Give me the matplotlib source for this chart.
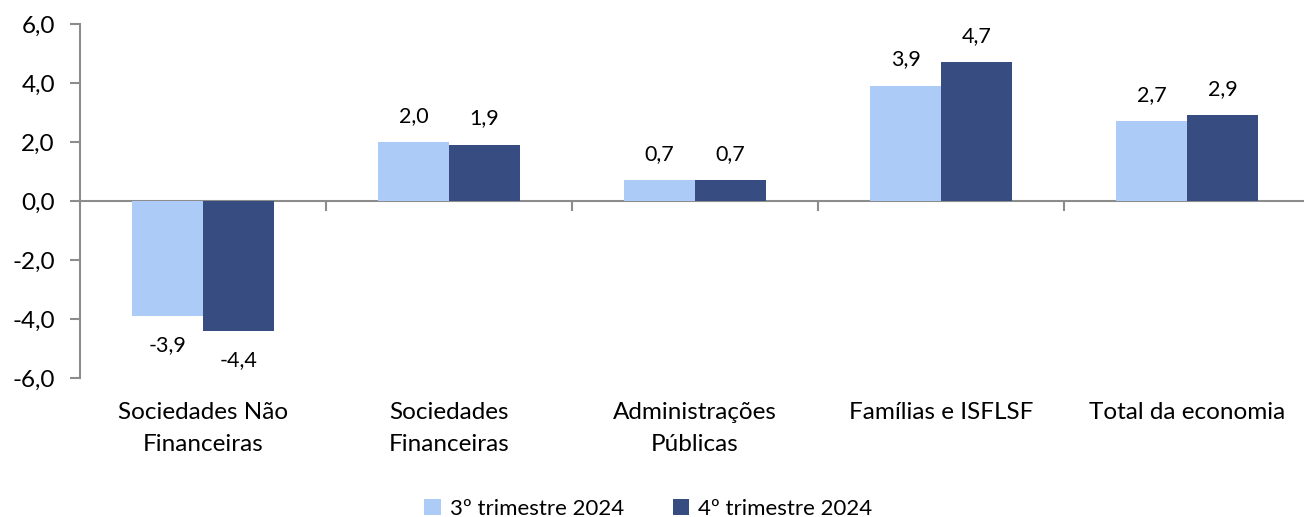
import matplotlib
matplotlib.use("Agg")
import matplotlib.pyplot as plt
import numpy as np

categories = ["Sociedades Não\nFinanceiras", "Sociedades\nFinanceiras",
              "Administrações\nPúblicas", "Famílias e ISFLSF", "Total da economia"]
series_names = ["3º trimestre 2024", "4º trimestre 2024"]
q3_values = [-3.9, 2.0, 0.7, 3.9, 2.7]
q4_values = [-4.4, 1.9, 0.7, 4.7, 2.9]
y_ticks = [-6.0, -4.0, -2.0, 0.0, 2.0, 4.0, 6.0]

colors = ["#ADCBF7", "#374C80"]
axis_gray = "#8C8C8C"

plt.rcParams['font.family'] = ['Lato', 'DejaVu Sans']

fig = plt.figure(figsize=(13.04, 5.17), dpi=100)
ax = fig.add_axes([80/1304, 1-378/517, 1230/1304, (378-24)/517])

x = np.arange(len(categories))
w = 0.288
all_series = [q3_values, q4_values]
offsets = [-w/2, w/2]
for vals, off, col, name in zip(all_series, offsets, colors, series_names):
    bars = ax.bar(x + off, vals, width=w, color=col, label=name, zorder=2)
    for b, v in zip(bars, vals):
        lbl = f"{v:.1f}".replace(".", ",")
        dy = 19 if v >= 0 else -21
        ax.annotate(lbl, (b.get_x() + b.get_width()/2, v), xytext=(0, dy),
                    textcoords="offset points", ha="center", va="center",
                    fontsize=15.5, color="#000000")

ax.set_xlim(-0.5, len(categories) - 0.5)
ax.set_ylim(-6, 6)
ax.set_yticks(y_ticks)
ax.set_yticklabels([f"{t:.1f}".replace(".", ",") for t in y_ticks], fontsize=17.5)
ax.tick_params(axis="y", direction="out", length=7, width=1.5, color=axis_gray, pad=11)

ax.set_xticks(x)
ax.set_xticklabels(categories, fontsize=17.5, linespacing=1.65)
ax.tick_params(axis="x", length=0, pad=17)

for s in ["top", "right", "bottom"]:
    ax.spines[s].set_visible(False)
ax.spines["left"].set_color(axis_gray)
ax.spines["left"].set_linewidth(1.5)

# zero axis with category boundary ticks
sec = ax.secondary_xaxis(0.5)
sec.set_xticks(np.arange(len(categories) - 1) + 0.5)
sec.set_xticklabels([])
sec.tick_params(direction="in", length=7, width=1.5, color=axis_gray)
for sp in sec.spines.values():
    sp.set_color(axis_gray)
    sp.set_linewidth(1.5)
    sp.set_zorder(3)

leg = fig.legend(loc="center", bbox_to_anchor=(0.497, 1-509/517), ncol=2,
                 frameon=False, fontsize=16, handlelength=0.75, handleheight=0.75,
                 handletextpad=0.4, columnspacing=2.2)

fig.savefig("out.png", dpi=100, facecolor="white")
